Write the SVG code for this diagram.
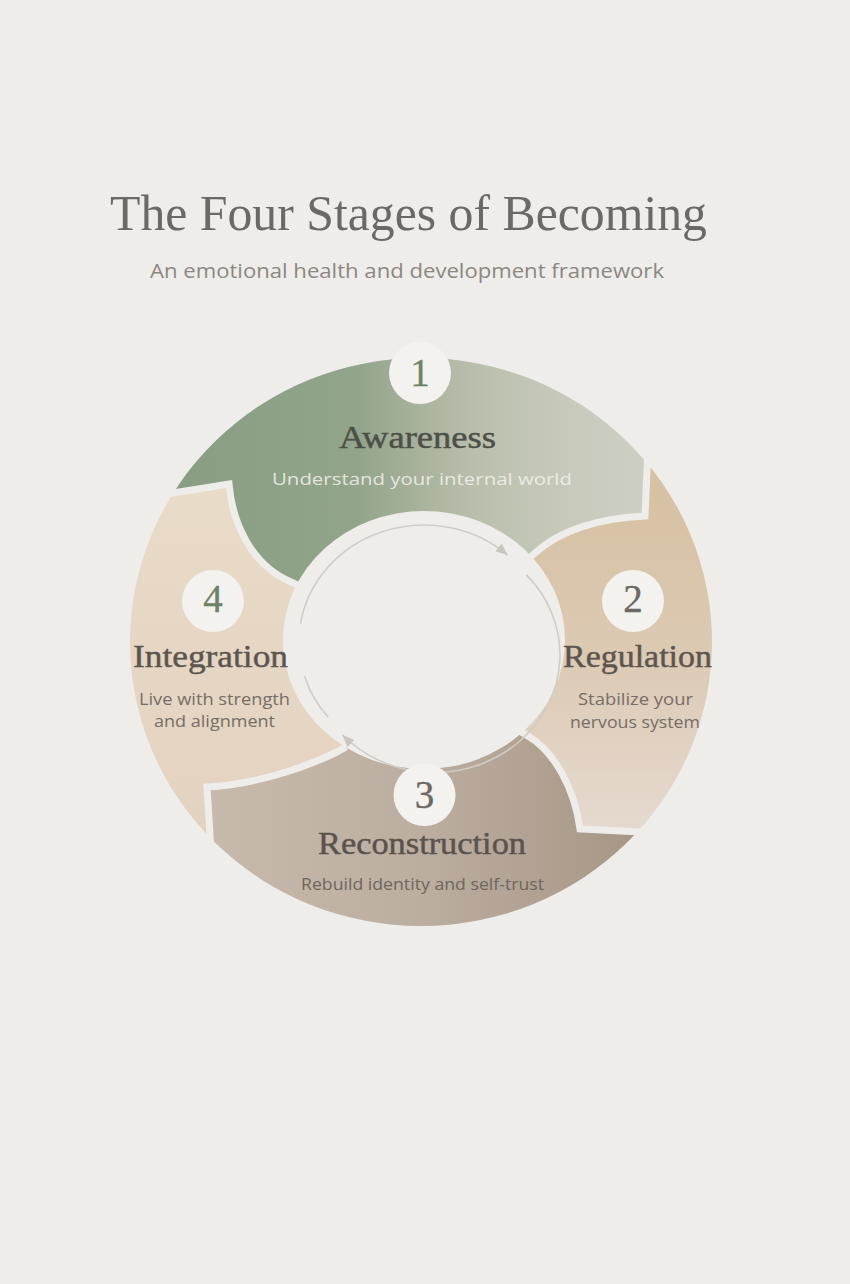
<svg xmlns="http://www.w3.org/2000/svg" width="850" height="1284" viewBox="0 0 850 1284">
  <defs>
    <style>
      .title{font-family:"Liberation Serif","Times New Roman",serif;font-size:50px;fill:#6a6964;text-anchor:middle}
      .sub{font-family:"Open Sans","Liberation Sans",sans-serif;font-size:20px;fill:#8b8781;text-anchor:middle}
      .head{font-family:"Liberation Serif","Times New Roman",serif;font-size:31px;text-anchor:middle;stroke-width:0.45}
      .desc{font-family:"Open Sans","Liberation Sans",sans-serif;font-size:17px;text-anchor:middle}
      .num{font-family:"Liberation Serif","Times New Roman",serif;font-size:39px;text-anchor:middle;stroke-width:0.35}
      .badge{fill:#f4f2ef}
      .gap{fill:none;stroke:#efedea;stroke-width:7;stroke-linejoin:miter}
      .flow{fill:none;stroke:#cfccc6;stroke-width:1.6}
    </style>
    <linearGradient id="g1" gradientUnits="userSpaceOnUse" x1="180" y1="0" x2="650" y2="0">
      <stop offset="0" stop-color="#889d82"/>
      <stop offset="0.38" stop-color="#92a58b"/>
      <stop offset="0.5" stop-color="#a6b19b"/>
      <stop offset="0.62" stop-color="#b9beac"/>
      <stop offset="0.8" stop-color="#c6c9ba"/>
      <stop offset="1" stop-color="#cdcfc3"/>
    </linearGradient>
    <linearGradient id="g2" gradientUnits="userSpaceOnUse" x1="0" y1="470" x2="0" y2="830">
      <stop offset="0" stop-color="#d6c0a1"/>
      <stop offset="0.5" stop-color="#dcc9b2"/>
      <stop offset="1" stop-color="#e5d9cf"/>
    </linearGradient>
    <linearGradient id="g3" gradientUnits="userSpaceOnUse" x1="210" y1="0" x2="640" y2="0">
      <stop offset="0" stop-color="#c7baac"/>
      <stop offset="0.5" stop-color="#bbad9f"/>
      <stop offset="1" stop-color="#a69685"/>
    </linearGradient>
    <linearGradient id="g4" gradientUnits="userSpaceOnUse" x1="0" y1="490" x2="0" y2="830">
      <stop offset="0" stop-color="#e8dbc8"/>
      <stop offset="1" stop-color="#e3d2bf"/>
    </linearGradient>
    <clipPath id="ring">
      <path clip-rule="evenodd" d="M130,642 A291,284 0 1 0 712,642 A291,284 0 1 0 130,642 Z M283,640 A141,129 0 1 0 565,640 A141,129 0 1 0 283,640 Z"/>
    </clipPath>
    <marker id="arrow" viewBox="0 0 12 10" refX="12" refY="5" markerWidth="12" markerHeight="10" markerUnits="userSpaceOnUse" orient="auto">
      <path d="M0,0 L12,5 L0,10 Z" fill="#c9c6c0"/>
    </marker>
  </defs>

  <rect x="0" y="0" width="850" height="1284" fill="#efedea"/>

  <g id="title">
    <text class="title" x="408.5" y="230" textLength="597" lengthAdjust="spacingAndGlyphs">The Four Stages of Becoming</text>
    <text class="sub" x="407" y="278" textLength="514" lengthAdjust="spacingAndGlyphs">An emotional health and development framework</text>
  </g>

  <g id="segments" clip-path="url(#ring)">
    <path id="seg1-shape" fill="url(#g1)" d="M120,502 L173,493 L229,484 C232,520 250,565 291,582 L424,640 L535,553 C560,530 600,518 645,516 L647,470 L649,440 L700,300 L420,300 L100,350 Z"/>
    <path id="seg2-shape" fill="url(#g2)" d="M649,440 L647,470 L645,516 C600,518 560,530 535,553 L424,640 L528,736 C555,752 575,790 580,829 L640,832 L690,836 L800,900 L800,400 Z"/>
    <path id="seg3-shape" fill="url(#g3)" d="M690,836 L640,832 L580,829 C575,790 555,752 528,736 L424,640 L337,752 C300,770 250,785 207,787 L210,835 L212,880 L200,1000 L700,1000 Z"/>
    <path id="seg4-shape" fill="url(#g4)" d="M212,880 L210,835 L207,787 C250,785 300,770 337,752 L424,640 L291,582 C250,565 232,520 229,484 L173,493 L120,502 L60,500 L60,900 Z"/>
  </g>

  <g id="connectors">
    <path class="gap" d="M110,504 L173,493 L229,484 C232,520 250,565 291,582 L302,587"/>
    <path class="gap" d="M649,430 L647,470 L645,516 C600,518 560,530 535,553 L526,561"/>
    <path class="gap" d="M700,836 L640,832 L580,829 C575,790 555,752 528,736 L518,730"/>
    <path class="gap" d="M213,890 L210,835 L207,787 C250,785 300,770 337,752 L346,747"/>
    <path class="flow" d="M300.5,623.7 A125,117 0 0 1 507.6,555.1" marker-end="url(#arrow)"/>
    <path class="flow" d="M526.4,574.9 A125,117 0 0 1 342.5,735" marker-end="url(#arrow)"/>
    <path class="flow" d="M328.2,717.2 A125,117 0 0 1 304.5,676.2"/>
  </g>

  <g id="stage1">
    <circle class="badge" cx="420" cy="373" r="31"/>
    <text class="num" x="420" y="386" fill="#6d8267" stroke="#6d8267">1</text>
    <text class="head" x="417.5" y="448" fill="#4c5046" stroke="#4c5046" textLength="157" lengthAdjust="spacingAndGlyphs">Awareness</text>
    <text class="desc" x="422" y="485" font-size="19" fill="#f4f2ec" fill-opacity="0.85" textLength="300" lengthAdjust="spacingAndGlyphs">Understand your internal world</text>
  </g>

  <g id="stage2">
    <circle class="badge" cx="633" cy="601" r="31"/>
    <text class="num" x="633" y="612" fill="#6c6862" stroke="#6c6862">2</text>
    <text class="head" x="637.5" y="667" fill="#5c554e" stroke="#5c554e" textLength="149" lengthAdjust="spacingAndGlyphs">Regulation</text>
    <text class="desc" x="635.5" y="705" fill="#756d66" textLength="115" lengthAdjust="spacingAndGlyphs">Stabilize your</text>
    <text class="desc" x="635" y="728" fill="#756d66" textLength="130" lengthAdjust="spacingAndGlyphs">nervous system</text>
  </g>

  <g id="stage3">
    <circle class="badge" cx="424.5" cy="795" r="31"/>
    <text class="num" x="424.5" y="808" fill="#6c6862" stroke="#6c6862">3</text>
    <text class="head" x="422" y="854" fill="#5a534c" stroke="#5a534c" textLength="208" lengthAdjust="spacingAndGlyphs">Reconstruction</text>
    <text class="desc" x="422.5" y="890" fill="#6e655d" textLength="243" lengthAdjust="spacingAndGlyphs">Rebuild identity and self-trust</text>
  </g>

  <g id="stage4">
    <circle class="badge" cx="213" cy="601" r="31"/>
    <text class="num" x="213" y="612" fill="#6d8267" stroke="#6d8267">4</text>
    <text class="head" x="210.5" y="667" fill="#5c554e" stroke="#5c554e" textLength="155" lengthAdjust="spacingAndGlyphs">Integration</text>
    <text class="desc" x="214.5" y="705" fill="#756d66" textLength="151" lengthAdjust="spacingAndGlyphs">Live with strength</text>
    <text class="desc" x="214.5" y="727" fill="#756d66" textLength="121" lengthAdjust="spacingAndGlyphs">and alignment</text>
  </g>
</svg>
